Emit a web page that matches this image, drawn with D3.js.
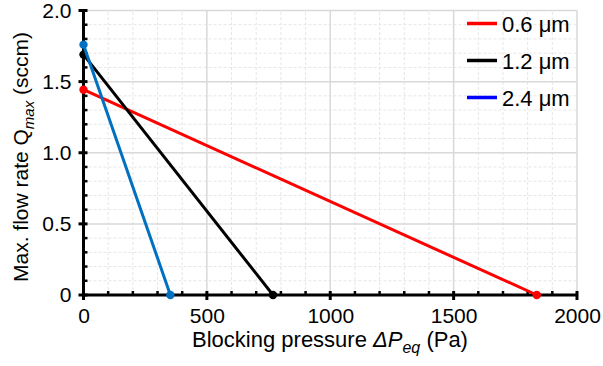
<!DOCTYPE html>
<html><head><meta charset="utf-8">
<script src="https://cdn.jsdelivr.net/npm/d3@7"></script>
<style>body{margin:0;background:#fff}svg{display:block;font-family:"Liberation Sans",Arial,sans-serif}</style>
</head><body>
<svg id="c" width="603" height="366"></svg>
<script>
const seriesNames = ["0.6 μm", "1.2 μm", "2.4 μm"];
const seriesX = [[0, 1837], [0, 768], [0, 352]];
const seriesY = [[1.443, 0], [1.69, 0], [1.76, 0]];
const lineColors = ["#ff0000", "#000000", "#0070c0"];
const legendColors = ["#ff0000", "#000000", "#0000ff"];
const xTicks = [0, 500, 1000, 1500, 2000];
const xTickLabels = ["0", "500", "1000", "1500", "2000"];
const yTicks = [0, 0.5, 1.0, 1.5, 2.0];
const yTickLabels = ["0", "0.5", "1.0", "1.5", "2.0"];

const FS = 21;
const FONT = "'Liberation Sans', Arial, sans-serif";
const svg = d3.select("#c");
const x = d3.scaleLinear().domain([0, 2000]).range([83.5, 577]);
const y = d3.scaleLinear().domain([0, 2]).range([295, 10.5]);

// minor grid
const xMinor = d3.range(0, 2001, 100).filter(v => v % 500 !== 0);
const yMinor = d3.range(0, 21).map(v => v / 10).filter((v, i) => i % 5 !== 0);
const g = svg.append("g");
g.selectAll(".mx").data(xMinor).join("line")
  .attr("x1", d => x(d)).attr("x2", d => x(d)).attr("y1", y(0)).attr("y2", y(2))
  .attr("stroke", "#e6e6e6").attr("stroke-width", 1).attr("stroke-dasharray", "3,2");
g.selectAll(".my").data(yMinor).join("line")
  .attr("x1", x(0)).attr("x2", x(2000)).attr("y1", d => y(d)).attr("y2", d => y(d))
  .attr("stroke", "#e6e6e6").attr("stroke-width", 1).attr("stroke-dasharray", "3,2");
// major grid
g.selectAll(".Mx").data(xTicks.slice(1)).join("line")
  .attr("x1", d => x(d)).attr("x2", d => x(d)).attr("y1", y(0)).attr("y2", y(2))
  .attr("stroke", "#d9d9d9").attr("stroke-width", 1.5);
g.selectAll(".My").data(yTicks.slice(1)).join("line")
  .attr("x1", x(0)).attr("x2", x(2000)).attr("y1", d => y(d)).attr("y2", d => y(d))
  .attr("stroke", "#d9d9d9").attr("stroke-width", 1.5);

// axes (labels)
const xAxis = d3.axisBottom(x).tickValues(xTicks).tickFormat((d, i) => xTickLabels[i]).tickSize(0).tickPadding(13);
const xa = svg.append("g").attr("transform", `translate(0,${y(0)})`).call(xAxis);
xa.select(".domain").remove();
xa.selectAll("text").attr("font-size", FS).attr("fill", "#000").attr("font-family", FONT);
const yAxis = d3.axisLeft(y).tickValues(yTicks).tickFormat((d, i) => yTickLabels[i]).tickSize(0).tickPadding(12);
const ya = svg.append("g").attr("transform", `translate(${x(0)},0)`).call(yAxis);
ya.select(".domain").remove();
ya.selectAll("text").attr("font-size", FS).attr("fill", "#000").attr("font-family", FONT);

// axis lines
svg.append("line").attr("x1", x(0)).attr("x2", x(2000)).attr("y1", y(0)).attr("y2", y(0)).attr("stroke", "#000").attr("stroke-width", 3);
svg.append("line").attr("x1", x(0)).attr("x2", x(0)).attr("y1", y(0) + 1.5).attr("y2", y(2)).attr("stroke", "#000").attr("stroke-width", 3);
// minor ticks
svg.selectAll(".tx").data(xMinor).join("line")
  .attr("x1", d => x(d)).attr("x2", d => x(d)).attr("y1", y(0) - 4).attr("y2", y(0))
  .attr("stroke", "#000").attr("stroke-width", 2.5);
svg.selectAll(".ty").data(yMinor).join("line")
  .attr("x1", x(0)).attr("x2", x(0) + 4).attr("y1", d => y(d)).attr("y2", d => y(d))
  .attr("stroke", "#000").attr("stroke-width", 2.5);
// major ticks
svg.selectAll(".Tx").data(xTicks).join("line")
  .attr("x1", d => x(d)).attr("x2", d => x(d)).attr("y1", y(0) - 4).attr("y2", y(0) + 5)
  .attr("stroke", "#000").attr("stroke-width", 3);
svg.selectAll(".Ty").data(yTicks).join("line")
  .attr("x1", x(0) - 5).attr("x2", x(0) + 4).attr("y1", d => y(d)).attr("y2", d => y(d))
  .attr("stroke", "#000").attr("stroke-width", 3);

// series
const line = d3.line().x(d => x(d[0])).y(d => y(d[1]));
seriesNames.forEach((name, i) => {
  const pts = seriesX[i].map((v, j) => [v, seriesY[i][j]]);
  svg.append("path").datum(pts).attr("d", line).attr("fill", "none")
    .attr("stroke", lineColors[i]).attr("stroke-width", 3);
  svg.selectAll(".p" + i).data(pts).join("circle")
    .attr("cx", d => x(d[0])).attr("cy", d => y(d[1])).attr("r", 4.2).attr("fill", lineColors[i]);
});

// legend
const leg = svg.append("g");
const legY = [23.5, 60.5, 97.5];
seriesNames.forEach((name, i) => {
  leg.append("line").attr("x1", 467).attr("x2", 497).attr("y1", legY[i]).attr("y2", legY[i])
    .attr("stroke", legendColors[i]).attr("stroke-width", 3.5);
  leg.append("text").attr("x", 502).attr("y", legY[i] + 8).attr("font-size", 22).attr("font-family", FONT).text(name);
});

// axis titles
const xt = svg.append("text").attr("x", 330).attr("y", 347).attr("text-anchor", "middle").attr("font-size", 22).attr("font-family", FONT);
xt.append("tspan").text("Blocking pressure ");
xt.append("tspan").attr("font-style", "italic").text("ΔP");
xt.append("tspan").attr("font-style", "italic").attr("font-size", 16).attr("dy", 6).text("eq");
xt.append("tspan").attr("dy", -6).text(" (Pa)");

const yt = svg.append("text").attr("transform", "translate(28,157) rotate(-90)").attr("text-anchor", "middle").attr("font-size", FS).attr("font-family", FONT);
yt.append("tspan").text("Max. flow rate Q");
yt.append("tspan").attr("font-style", "italic").attr("font-size", 15).attr("dy", 6).text("max");
yt.append("tspan").attr("dy", -6).text(" (sccm)");
</script>
</body></html>
